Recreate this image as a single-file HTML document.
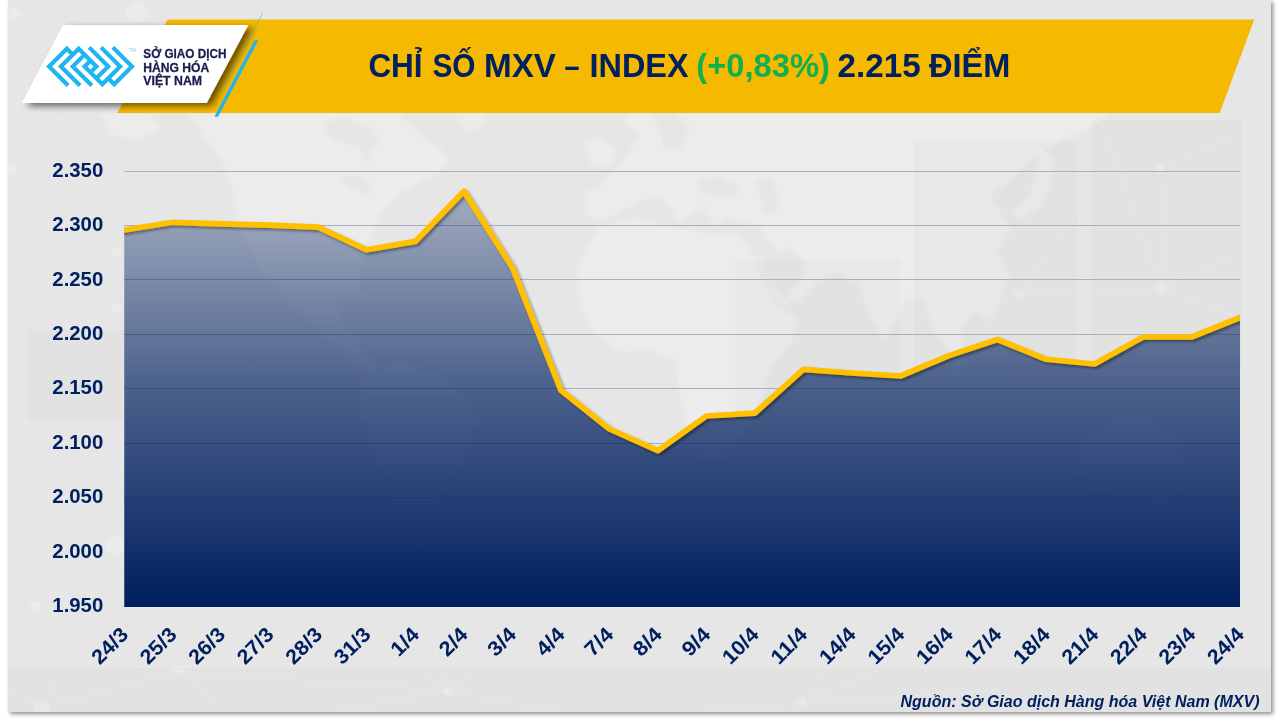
<!DOCTYPE html>
<html lang="vi"><head><meta charset="utf-8">
<title>Chỉ số MXV – Index</title>
<style>
html,body{margin:0;padding:0;background:#fff;width:1280px;height:720px;overflow:hidden}
body{font-family:"Liberation Sans",sans-serif}
#frame{position:absolute;left:8px;top:0;width:1263px;height:712px;background:#e6e6e6;box-shadow:2px 2px 4px rgba(0,0,0,.45)}
svg{position:absolute;left:0;top:0}
text{font-family:"Liberation Sans",sans-serif;font-weight:bold}
</style></head><body>
<div id="frame"></div>
<svg width="1280" height="720" viewBox="0 0 1280 720">
<defs>
<linearGradient id="ag" gradientUnits="userSpaceOnUse" x1="0" y1="192" x2="0" y2="606.5">
<stop offset="0" stop-color="#002060" stop-opacity=".29"/>
<stop offset=".454" stop-color="#002060" stop-opacity=".66"/>
<stop offset="1" stop-color="#001e5e" stop-opacity="1"/>
</linearGradient>
<filter id="ls" x="-5%" y="-20%" width="110%" height="140%"><feGaussianBlur in="SourceAlpha" stdDeviation="1.7"/><feOffset dx="1.8" dy="2.3"/><feComponentTransfer><feFuncA type="linear" slope=".4"/></feComponentTransfer><feMerge><feMergeNode/><feMergeNode in="SourceGraphic"/></feMerge></filter>
<filter id="bs" x="-20%" y="-20%" width="140%" height="150%"><feGaussianBlur in="SourceAlpha" stdDeviation="3.6"/><feOffset dx="4.8" dy="2.6"/><feComponentTransfer><feFuncA type="linear" slope=".58"/></feComponentTransfer><feMerge><feMergeNode/><feMergeNode in="SourceGraphic"/></feMerge></filter>
<clipPath id="pc"><rect x="124" y="150" width="1116" height="470"/></clipPath>
<filter id="mb" x="-5%" y="-5%" width="110%" height="110%"><feGaussianBlur stdDeviation="1.6"/></filter>
<clipPath id="fc"><rect x="8" y="0" width="1263" height="712"/></clipPath>
</defs>
<g filter="url(#mb)">
<g fill="#fff" fill-opacity=".24">
<polygon points="188,113 206,140 222,160 232,185 237,215 242,235 258,265 280,292 305,318 330,340 352,360 368,375 378,370 360,345 342,322 336,300 352,296 362,300 360,275 368,240 380,215 398,195 420,182 440,172 450,160 440,148 425,140 410,125 400,113"/>
<polygon points="100,113 150,113 160,128 140,140 112,135"/>
<polygon points="455,113 488,113 484,126 470,131 458,124"/>
<polygon points="583,143 600,138 616,150 612,166 592,166"/>
<polygon points="372,372 400,362 430,372 462,395 478,420 470,450 452,480 436,510 420,545 408,570 398,560 394,520 386,480 372,450 360,415 362,390"/>
<polygon points="628,113 622,122 640,135 630,150 615,170 604,180 600,188 585,192 585,215 600,221 620,212 640,202 655,196 668,205 680,224 690,216 704,206 714,226 726,218 742,222 760,226 768,240 778,252 790,248 806,262 800,280 786,300 770,282 762,262 752,250 780,306 800,300 820,280 840,272 858,285 872,320 884,340 896,318 906,296 922,300 934,330 948,350 956,372 966,360 960,330 975,310 990,322 1000,300 1010,275 996,250 1012,230 1000,212 990,196 1010,180 1030,160 1060,140 1090,128 1110,113"/>
<polygon points="600,226 640,218 670,228 700,232 740,236 752,252 762,280 778,308 800,318 790,345 770,370 760,400 745,435 722,460 700,462 688,430 680,395 676,360 650,350 620,352 596,335 580,305 578,270 588,245"/>
<polygon points="1040,150 1056,160 1050,185 1040,205 1022,220 1012,214 1030,196 1036,172"/>
<polygon points="1080,440 1110,420 1150,415 1180,440 1190,480 1170,505 1130,500 1095,495 1075,470"/>
</g>
<g fill="#e6e6e6" fill-opacity=".9">
<polygon points="325,122 347,119 375,129 378,144 369,151 372,161 366,162 359,147 337,141 325,132"/>
<polygon points="340,177 358,175 372,184 368,196 356,190 346,187"/>
<polygon points="697,180 718,176 738,186 736,198 716,198 700,192"/>
<polygon points="756,180 772,178 778,196 776,214 764,214 760,198"/>
<polygon points="650,113 672,113 690,125 680,150 664,150 660,130"/>
</g>
</g>
<g fill="#000" fill-opacity=".016">
<rect x="735" y="260" width="165" height="160"/>
<rect x="914" y="141" width="163" height="230"/>
<rect x="27" y="330" width="97" height="90"/>
<rect x="1092" y="120" width="150" height="250"/>
<rect x="8" y="668" width="1263" height="44"/>
</g>
<g clip-path="url(#fc)">
<g stroke="#fff" stroke-opacity=".16" stroke-width="1" fill="none">
<line x1="179" y1="671" x2="42" y2="708"/>
<line x1="179" y1="671" x2="8" y2="650"/>
<line x1="179" y1="671" x2="228" y2="712"/>
<line x1="179" y1="671" x2="140" y2="712"/>
<line x1="179" y1="671" x2="262" y2="640"/>
<line x1="179" y1="671" x2="448" y2="691"/>
<line x1="42" y1="708" x2="8" y2="690"/>
<line x1="42" y1="708" x2="115" y2="545"/>
<line x1="448" y1="691" x2="380" y2="640"/>
<line x1="448" y1="691" x2="520" y2="640"/>
<line x1="448" y1="691" x2="330" y2="712"/>
<line x1="448" y1="691" x2="560" y2="712"/>
<line x1="448" y1="691" x2="430" y2="630"/>
<line x1="802" y1="703" x2="700" y2="712"/>
<line x1="802" y1="703" x2="740" y2="640"/>
<line x1="802" y1="703" x2="900" y2="660"/>
<line x1="802" y1="703" x2="1000" y2="690"/>
<line x1="802" y1="703" x2="860" y2="620"/>
<line x1="35" y1="606" x2="115" y2="545"/>
<line x1="115" y1="545" x2="8" y2="500"/>
<line x1="117" y1="308" x2="117" y2="252"/>
<line x1="117" y1="252" x2="10" y2="169"/>
<line x1="117" y1="252" x2="8" y2="300"/>
<line x1="10" y1="169" x2="100" y2="120"/>
<line x1="14" y1="14" x2="137" y2="12"/>
<line x1="137" y1="12" x2="60" y2="120"/>
<line x1="137" y1="12" x2="260" y2="0"/>
<line x1="1019" y1="294" x2="1161" y2="288"/>
<line x1="1161" y1="288" x2="1160" y2="168"/>
<line x1="1161" y1="288" x2="1271" y2="330"/>
<line x1="1160" y1="168" x2="1271" y2="120"/>
<line x1="1161" y1="288" x2="1100" y2="120"/>
<line x1="1019" y1="294" x2="1100" y2="180"/>
<line x1="1161" y1="288" x2="1271" y2="240"/>
</g>
<g fill="#fff" fill-opacity=".2">
<circle cx="179" cy="671" r="5"/>
<circle cx="42" cy="708" r="8"/>
<circle cx="448" cy="691" r="5"/>
<circle cx="802" cy="703" r="5"/>
<circle cx="14" cy="14" r="6"/>
<circle cx="137" cy="12" r="11"/>
<circle cx="10" cy="169" r="6"/>
<circle cx="117" cy="252" r="5"/>
<circle cx="117" cy="308" r="5"/>
<circle cx="115" cy="545" r="10"/>
<circle cx="35" cy="606" r="5"/>
<circle cx="1019" cy="294" r="5"/>
<circle cx="1161" cy="288" r="6"/>
<circle cx="1160" cy="168" r="5"/>
</g>
</g>
<polygon points="167.5,19.5 1254.2,19.5 1219.7,113 117.3,113" fill="#f5b900"/>
<polygon points="63.1,25 248.3,25 206.7,103 21.8,103" fill="#fff" filter="url(#bs)"/>
<line x1="263" y1="12.5" x2="221.7" y2="90.8" stroke="#3db0e6" stroke-width="0.9" opacity=".55"/>
<polygon points="254.5,40.3 258.3,40.3 218.1,116.8 214.3,116.8" fill="#1fb5f0"/>
<g transform="translate(46.1,66.45) scale(5.92,-5.92)" fill="none" stroke="#1fb5f0" stroke-width=".7071" stroke-linejoin="miter" stroke-miterlimit="4" stroke-linecap="butt">
<polyline points="3.72,-3.22 0.5,0 3.5,3 4.5,2"/>
<polyline points="5.72,-3.22 2.5,0 5.5,3 8.5,0 7.5,-1"/>
<polyline points="7.72,-3.22 4.5,0 6.5,2"/>
<polyline points="11.28,3.22 14.5,0 11.5,-3 10.5,-2"/>
<polyline points="9.28,3.22 12.5,0 9.5,-3 6.5,0 7.5,1"/>
<polyline points="7.28,3.22 10.5,0 8.5,-2"/>
</g>
<text x="128.4" y="52.4" font-size="4.6" fill="#7fd2f6" style="font-weight:normal" textLength="7.5" lengthAdjust="spacingAndGlyphs">TM</text>
<text x="143.3" y="57.6" font-size="13.5" fill="#1b1c50" stroke="#1b1c50" stroke-width=".3" textLength="83.2" lengthAdjust="spacingAndGlyphs">SỞ GIAO DỊCH</text>
<text x="143.3" y="71.5" font-size="13.5" fill="#1b1c50" stroke="#1b1c50" stroke-width=".3" textLength="66" lengthAdjust="spacingAndGlyphs">HÀNG HÓA</text>
<text x="143.3" y="85.4" font-size="13.5" fill="#1b1c50" stroke="#1b1c50" stroke-width=".3" textLength="58.7" lengthAdjust="spacingAndGlyphs">VIỆT NAM</text>
<text y="77" font-size="33.2" fill="#002060"><tspan x="368.4" fill="#002060" textLength="54.2" lengthAdjust="spacingAndGlyphs">CHỈ</tspan> <tspan x="432.4" fill="#002060" textLength="43" lengthAdjust="spacingAndGlyphs">SỐ</tspan> <tspan x="484.1" fill="#002060" textLength="71.9" lengthAdjust="spacingAndGlyphs">MXV</tspan> <tspan x="564.6" fill="#002060" textLength="15" lengthAdjust="spacingAndGlyphs">–</tspan> <tspan x="589.5" fill="#002060" textLength="99.1" lengthAdjust="spacingAndGlyphs">INDEX</tspan> <tspan x="696.25" fill="#10b050" textLength="133.6" lengthAdjust="spacingAndGlyphs">(+0,83%)</tspan> <tspan x="837.6" fill="#002060" textLength="83" lengthAdjust="spacingAndGlyphs">2.215</tspan> <tspan x="929" fill="#002060" textLength="81.3" lengthAdjust="spacingAndGlyphs">ĐIỂM</tspan></text>
<line x1="124" y1="171.5" x2="1240" y2="171.5" stroke="#a6afc6" stroke-width="1"/>
<line x1="124" y1="225.5" x2="1240" y2="225.5" stroke="#a6afc6" stroke-width="1"/>
<line x1="124" y1="279.5" x2="1240" y2="279.5" stroke="#a6afc6" stroke-width="1"/>
<line x1="124" y1="334.5" x2="1240" y2="334.5" stroke="#a6afc6" stroke-width="1"/>
<line x1="124" y1="388.5" x2="1240" y2="388.5" stroke="#a6afc6" stroke-width="1"/>
<line x1="124" y1="443.5" x2="1240" y2="443.5" stroke="#a6afc6" stroke-width="1"/>
<line x1="124" y1="497.5" x2="1240" y2="497.5" stroke="#a6afc6" stroke-width="1"/>
<line x1="124" y1="552.5" x2="1240" y2="552.5" stroke="#a6afc6" stroke-width="1"/>
<text x="103.3" y="177" font-size="20" fill="#002060" text-anchor="end" textLength="51" lengthAdjust="spacingAndGlyphs">2.350</text>
<text x="103.3" y="231" font-size="20" fill="#002060" text-anchor="end" textLength="51" lengthAdjust="spacingAndGlyphs">2.300</text>
<text x="103.3" y="286" font-size="20" fill="#002060" text-anchor="end" textLength="51" lengthAdjust="spacingAndGlyphs">2.250</text>
<text x="103.3" y="340" font-size="20" fill="#002060" text-anchor="end" textLength="51" lengthAdjust="spacingAndGlyphs">2.200</text>
<text x="103.3" y="394" font-size="20" fill="#002060" text-anchor="end" textLength="51" lengthAdjust="spacingAndGlyphs">2.150</text>
<text x="103.3" y="449" font-size="20" fill="#002060" text-anchor="end" textLength="51" lengthAdjust="spacingAndGlyphs">2.100</text>
<text x="103.3" y="503" font-size="20" fill="#002060" text-anchor="end" textLength="51" lengthAdjust="spacingAndGlyphs">2.050</text>
<text x="103.3" y="558" font-size="20" fill="#002060" text-anchor="end" textLength="51" lengthAdjust="spacingAndGlyphs">2.000</text>
<text x="103.3" y="612" font-size="20" fill="#002060" text-anchor="end" textLength="51" lengthAdjust="spacingAndGlyphs">1.950</text>
<polygon points="124.25,230 172.76,222.3 221.27,223.9 269.78,225.2 318.29,227.1 366.8,249.8 415.32,241.4 463.83,191.15 512.34,267.5 560.85,390.25 609.36,429 657.87,450.65 706.38,416 754.89,413.1 803.4,369.4 851.91,373 900.42,376 948.93,355.6 997.45,339.5 1045.96,359.25 1094.47,364 1142.98,337 1191.49,337 1240,317.5 1240,607 124.25,607" fill="url(#ag)"/>
<g clip-path="url(#pc)"><g filter="url(#ls)"><polyline points="114.25,231.59 124.25,230 172.76,222.3 221.27,223.9 269.78,225.2 318.29,227.1 366.8,249.8 415.32,241.4 463.83,191.15 512.34,267.5 560.85,390.25 609.36,429 657.87,450.65 706.38,416 754.89,413.1 803.4,369.4 851.91,373 900.42,376 948.93,355.6 997.45,339.5 1045.96,359.25 1094.47,364 1142.98,337 1191.49,337 1240,317.5 1250,313.48" fill="none" stroke="#ffc000" stroke-width="5.7" stroke-linejoin="round"/></g></g>
<text transform="translate(129.45,635.7) rotate(-45)" x="-42" y="0" font-size="20.5" fill="#002060" textLength="42" lengthAdjust="spacingAndGlyphs">24/3</text>
<text transform="translate(177.96,635.7) rotate(-45)" x="-42" y="0" font-size="20.5" fill="#002060" textLength="42" lengthAdjust="spacingAndGlyphs">25/3</text>
<text transform="translate(226.47,635.7) rotate(-45)" x="-42" y="0" font-size="20.5" fill="#002060" textLength="42" lengthAdjust="spacingAndGlyphs">26/3</text>
<text transform="translate(274.98,635.7) rotate(-45)" x="-42" y="0" font-size="20.5" fill="#002060" textLength="42" lengthAdjust="spacingAndGlyphs">27/3</text>
<text transform="translate(323.49,635.7) rotate(-45)" x="-42" y="0" font-size="20.5" fill="#002060" textLength="42" lengthAdjust="spacingAndGlyphs">28/3</text>
<text transform="translate(372,635.7) rotate(-45)" x="-42" y="0" font-size="20.5" fill="#002060" textLength="42" lengthAdjust="spacingAndGlyphs">31/3</text>
<text transform="translate(420.52,635.7) rotate(-45)" x="-30.7" y="0" font-size="20.5" fill="#002060" textLength="30.7" lengthAdjust="spacingAndGlyphs">1/4</text>
<text transform="translate(469.03,635.7) rotate(-45)" x="-30.7" y="0" font-size="20.5" fill="#002060" textLength="30.7" lengthAdjust="spacingAndGlyphs">2/4</text>
<text transform="translate(517.54,635.7) rotate(-45)" x="-30.7" y="0" font-size="20.5" fill="#002060" textLength="30.7" lengthAdjust="spacingAndGlyphs">3/4</text>
<text transform="translate(566.05,635.7) rotate(-45)" x="-30.7" y="0" font-size="20.5" fill="#002060" textLength="30.7" lengthAdjust="spacingAndGlyphs">4/4</text>
<text transform="translate(614.56,635.7) rotate(-45)" x="-30.7" y="0" font-size="20.5" fill="#002060" textLength="30.7" lengthAdjust="spacingAndGlyphs">7/4</text>
<text transform="translate(663.07,635.7) rotate(-45)" x="-30.7" y="0" font-size="20.5" fill="#002060" textLength="30.7" lengthAdjust="spacingAndGlyphs">8/4</text>
<text transform="translate(711.58,635.7) rotate(-45)" x="-30.7" y="0" font-size="20.5" fill="#002060" textLength="30.7" lengthAdjust="spacingAndGlyphs">9/4</text>
<text transform="translate(760.09,635.7) rotate(-45)" x="-42" y="0" font-size="20.5" fill="#002060" textLength="42" lengthAdjust="spacingAndGlyphs">10/4</text>
<text transform="translate(808.6,635.7) rotate(-45)" x="-42" y="0" font-size="20.5" fill="#002060" textLength="42" lengthAdjust="spacingAndGlyphs">11/4</text>
<text transform="translate(857.11,635.7) rotate(-45)" x="-42" y="0" font-size="20.5" fill="#002060" textLength="42" lengthAdjust="spacingAndGlyphs">14/4</text>
<text transform="translate(905.62,635.7) rotate(-45)" x="-42" y="0" font-size="20.5" fill="#002060" textLength="42" lengthAdjust="spacingAndGlyphs">15/4</text>
<text transform="translate(954.13,635.7) rotate(-45)" x="-42" y="0" font-size="20.5" fill="#002060" textLength="42" lengthAdjust="spacingAndGlyphs">16/4</text>
<text transform="translate(1002.65,635.7) rotate(-45)" x="-42" y="0" font-size="20.5" fill="#002060" textLength="42" lengthAdjust="spacingAndGlyphs">17/4</text>
<text transform="translate(1051.16,635.7) rotate(-45)" x="-42" y="0" font-size="20.5" fill="#002060" textLength="42" lengthAdjust="spacingAndGlyphs">18/4</text>
<text transform="translate(1099.67,635.7) rotate(-45)" x="-42" y="0" font-size="20.5" fill="#002060" textLength="42" lengthAdjust="spacingAndGlyphs">21/4</text>
<text transform="translate(1148.18,635.7) rotate(-45)" x="-42" y="0" font-size="20.5" fill="#002060" textLength="42" lengthAdjust="spacingAndGlyphs">22/4</text>
<text transform="translate(1196.69,635.7) rotate(-45)" x="-42" y="0" font-size="20.5" fill="#002060" textLength="42" lengthAdjust="spacingAndGlyphs">23/4</text>
<text transform="translate(1245.2,635.7) rotate(-45)" x="-42" y="0" font-size="20.5" fill="#002060" textLength="42" lengthAdjust="spacingAndGlyphs">24/4</text>
<text x="900.5" y="707" font-size="16" fill="#002060" font-style="italic" textLength="359" lengthAdjust="spacingAndGlyphs">Nguồn: Sở Giao dịch Hàng hóa Việt Nam (MXV)</text>
</svg>
</body></html>
